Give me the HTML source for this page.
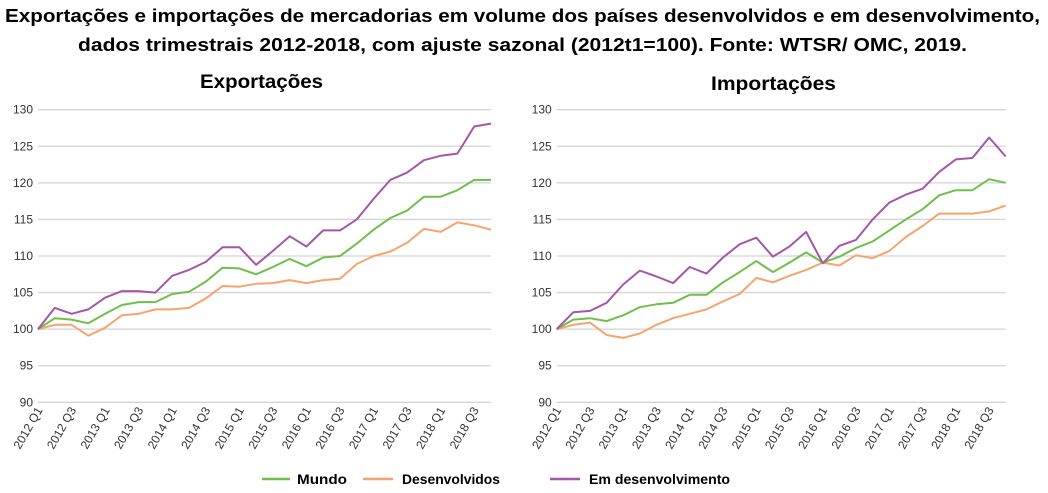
<!DOCTYPE html>
<html><head><meta charset="utf-8"><style>
body{margin:0;background:#fff;}
svg{display:block;font-family:"Liberation Sans",sans-serif;}
.tt{font-weight:bold;font-size:18.5px;fill:#000;}
.st{font-weight:bold;font-size:19px;fill:#000;}
.yl{font-size:12px;fill:#333;}
.xl{font-size:12px;fill:#333;}
.lg{font-weight:bold;font-size:14px;fill:#000;}
</style></head><body>
<svg id="svg" width="1048" height="493" viewBox="0 0 1048 493">
<text class="tt" x="5" y="22" textLength="1035" lengthAdjust="spacingAndGlyphs">Exportações e importações de mercadorias em volume dos países desenvolvidos e em desenvolvimento,</text>
<text class="tt" x="78" y="51" textLength="889" lengthAdjust="spacingAndGlyphs">dados trimestrais 2012-2018, com ajuste sazonal (2012t1=100). Fonte: WTSR/ OMC, 2019.</text>
<text class="st" x="200" y="88" textLength="123" lengthAdjust="spacingAndGlyphs">Exportações</text>
<text class="st" x="711" y="90" textLength="125" lengthAdjust="spacingAndGlyphs">Importações</text>
<g id="left"></g>
<g id="right"></g>
<g>
<line x1="262" y1="479" x2="290" y2="479" stroke="#6fbf4a" stroke-width="2.5"/>
<text class="lg" x="297" y="484" textLength="50" lengthAdjust="spacingAndGlyphs">Mundo</text>
<line x1="363" y1="479" x2="393" y2="479" stroke="#f5a46e" stroke-width="2.5"/>
<text class="lg" x="402" y="484" textLength="98" lengthAdjust="spacingAndGlyphs">Desenvolvidos</text>
<line x1="550" y1="479" x2="580" y2="479" stroke="#a457a8" stroke-width="2.5"/>
<text class="lg" x="589" y="484" textLength="141" lengthAdjust="spacingAndGlyphs">Em desenvolvimento</text>
</g>
</svg>
<script>
const quarters = ["2012 Q1","2012 Q2","2012 Q3","2012 Q4","2013 Q1","2013 Q2","2013 Q3","2013 Q4","2014 Q1","2014 Q2","2014 Q3","2014 Q4","2015 Q1","2015 Q2","2015 Q3","2015 Q4","2016 Q1","2016 Q2","2016 Q3","2016 Q4","2017 Q1","2017 Q2","2017 Q3","2017 Q4","2018 Q1","2018 Q2","2018 Q3","2018 Q4"];
const yTicks = [90,95,100,105,110,115,120,125,130];
const expMundo = [100,101.5,101.3,100.8,102.1,103.3,103.7,103.7,104.8,105.1,106.5,108.4,108.3,107.5,108.5,109.6,108.6,109.8,110,111.7,113.6,115.2,116.2,118.1,118.1,119,120.4,120.4];
const expDesenv = [100,100.6,100.6,99.1,100.2,101.9,102.1,102.7,102.7,102.9,104.2,105.9,105.8,106.2,106.3,106.7,106.3,106.7,106.9,108.9,110,110.6,111.8,113.7,113.3,114.6,114.2,113.6];
const expEmDesenv = [100,102.9,102.1,102.7,104.3,105.2,105.2,105,107.3,108.1,109.2,111.2,111.2,108.8,110.7,112.7,111.3,113.5,113.5,115,117.8,120.4,121.4,123.1,123.7,124,127.7,128.1];
const impMundo = [100,101.3,101.5,101.1,101.9,103,103.4,103.6,104.7,104.7,106.4,107.8,109.3,107.8,109.1,110.5,109.1,109.9,111.1,112,113.5,115,116.4,118.3,119,119,120.5,120];
const impDesenv = [100,100.6,100.9,99.2,98.8,99.4,100.6,101.5,102.1,102.7,103.8,104.8,107,106.4,107.3,108.1,109.1,108.7,110.1,109.7,110.7,112.6,114.1,115.8,115.8,115.8,116.1,116.9];
const impEmDesenv = [100,102.3,102.5,103.6,106.1,108,107.2,106.3,108.5,107.6,109.8,111.6,112.5,109.9,111.3,113.3,109.0,111.4,112.2,115,117.3,118.4,119.2,121.5,123.2,123.4,126.2,123.6];

const NS="http://www.w3.org/2000/svg";
function mk(t,a,p){const e=document.createElementNS(NS,t);for(const k in a)e.setAttribute(k,a[k]);p.appendChild(e);return e;}
function drawChart(g,x0,x1,series,prefix){
  const yTop=109.7,yBot=402.3;
  const xs=i=>x0+(x1-x0)*i/(quarters.length-1);
  const ys=v=>yBot-(v-90)/(130-90)*(yBot-yTop);
  yTicks.forEach(t=>{
    const l=mk('line',{x1:x0,x2:x1,y1:ys(t),y2:ys(t),stroke:'#d4d4d4','stroke-width':1.3},g);
    
    
    const tx=mk('text',{x:x0-5,y:ys(t)+4,'text-anchor':'end',class:'yl'},g);
    tx.textContent=t;
    
    
  });
  quarters.forEach((q,i)=>{
    if(i%2)return;
    const x=xs(i)+5,y=410;
    const tx=mk('text',{x:x,y:y,'text-anchor':'end',class:'xl',transform:`rotate(-60 ${x} ${y})`},g);
    tx.textContent=q;
    
    
  });
  series.forEach(s=>{
    const p=mk('polyline',{points:s.v.map((v,i)=>xs(i).toFixed(1)+','+ys(v).toFixed(1)).join(' '),fill:'none',stroke:s.c,'stroke-width':2,'stroke-linejoin':'round'},g);
    
    
  });
}
const G='#6fbf4a',O='#f5a46e',P='#a457a8';
drawChart(document.getElementById('left'),38,491,[{v:expDesenv,c:O,n:'desenvolvidos'},{v:expMundo,c:G,n:'mundo'},{v:expEmDesenv,c:P,n:'em-desenvolvimento'}],'exports');
drawChart(document.getElementById('right'),556.7,1005.7,[{v:impDesenv,c:O,n:'desenvolvidos'},{v:impMundo,c:G,n:'mundo'},{v:impEmDesenv,c:P,n:'em-desenvolvimento'}],'imports');
</script>
</body></html>
